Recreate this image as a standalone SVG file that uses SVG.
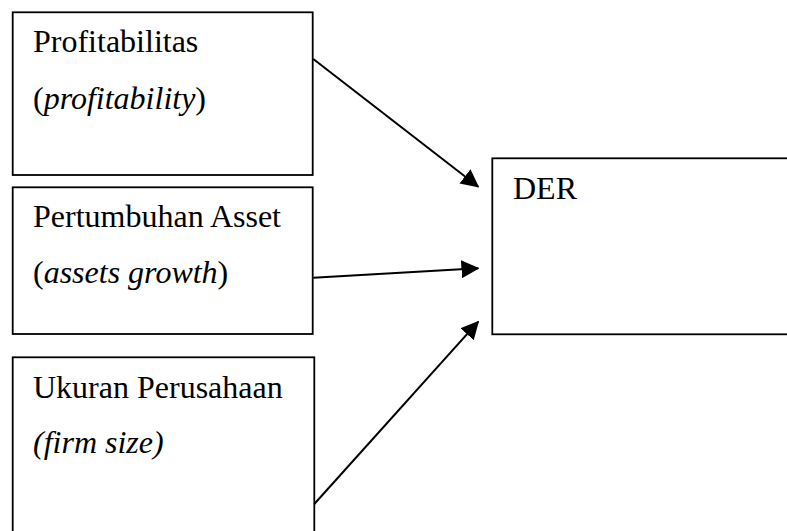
<svg xmlns="http://www.w3.org/2000/svg" width="787" height="531" viewBox="0 0 787 531">
<style>
.box{fill:#fff;stroke:#000;stroke-width:1.8}
.t{font-family:"Liberation Serif","Times New Roman",serif;font-size:32px;fill:#000}
.i{font-style:italic}
.c{stroke:#000;stroke-width:2;fill:none}
</style>
<defs>
<marker id="ah" markerUnits="userSpaceOnUse" markerWidth="18" markerHeight="18" viewBox="0 0 16 16" refX="15" refY="8" orient="auto">
<path d="M0,0 L16,8 L0,16 Z" fill="#000"/>
</marker>
</defs>
<rect width="787" height="531" fill="#fff"/>
<g id="profitabilitas">
<rect class="box" x="12.7" y="12.3" width="300" height="162.7"/>
<text class="t" x="33" y="52">Profitabilitas</text>
<text class="t" x="33" y="109">(<tspan class="i">profitability</tspan>)</text>
</g>
<g id="pertumbuhan">
<rect class="box" x="12.7" y="187.3" width="300" height="146.7"/>
<text class="t" x="33" y="227">Pertumbuhan Asset</text>
<text class="t" x="33" y="283">(<tspan class="i">assets growth</tspan>)</text>
</g>
<g id="ukuran">
<rect class="box" x="12.7" y="357.3" width="301.6" height="190"/>
<text class="t" x="33" y="397.5">Ukuran Perusahaan</text>
<text class="t i" x="33" y="453">(firm size)</text>
</g>
<g id="der">
<rect class="box" x="492.3" y="158.3" width="310" height="176"/>
<text class="t" x="513" y="199">DER</text>
</g>
<g id="connectors">
<line class="c" x1="313.3" y1="59" x2="478.3" y2="186.7" marker-end="url(#ah)"/>
<line class="c" x1="313.3" y1="277.7" x2="478.3" y2="268.3" marker-end="url(#ah)"/>
<line class="c" x1="314.3" y1="504" x2="478.3" y2="321.7" marker-end="url(#ah)"/>
</g>
</svg>
